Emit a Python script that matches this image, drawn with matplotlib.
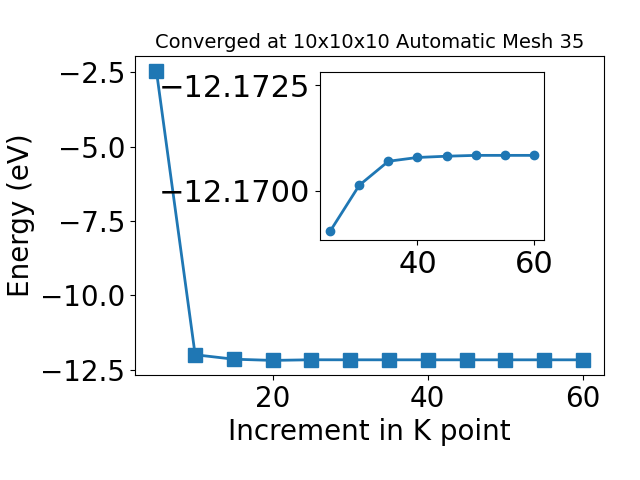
import matplotlib
matplotlib.use("Agg")
import matplotlib.pyplot as plt

# k-point increments and total energies (eV)
kpoints = [5, 10, 15, 20, 25, 30, 35, 40, 45, 50, 55, 60]
energy = [-2.45, -12.0, -12.15, -12.19, -12.169, -12.170, -12.1707,
          -12.1708, -12.1708, -12.1708, -12.1708, -12.1708]

# zoomed-in tail for the inset
kpoints_zoom = [25, 30, 35, 40, 45, 50, 55, 60]
energy_zoom = [-12.16904, -12.17013, -12.17070, -12.17079,
               -12.17082, -12.17084, -12.17084, -12.17084]

fig = plt.figure(figsize=(6.4, 4.8), dpi=100)
ax = fig.add_axes([0.211, 0.219, 0.733, 0.664])
ax.plot(kpoints, energy, marker="s", ms=10, lw=2, color="#1f77b4")
ax.set_xlabel("Increment in K point", fontsize=20)
ax.set_ylabel("Energy (eV)", fontsize=20)
ax.set_title("Converged at 10x10x10 Automatic Mesh 35", fontsize=14)
ax.tick_params(labelsize=20)
ax.set_yticks([-2.5, -5.0, -7.5, -10.0, -12.5])

# inset
ins = fig.add_axes([0.5, 0.5, 0.35, 0.35])
ins.plot(kpoints_zoom, energy_zoom, marker="o", ms=6, lw=2, color="#1f77b4")
ins.set_ylim(-12.16883, -12.17282)
ins.set_yticks([-12.1725, -12.1700])
ins.set_xticks([40, 60])
ins.tick_params(labelsize=22)

fig.savefig("out.png", dpi=100)
